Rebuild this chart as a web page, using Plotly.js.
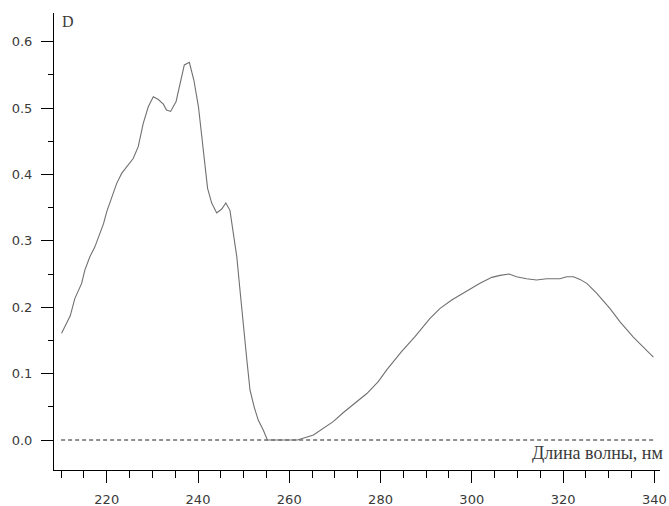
<!DOCTYPE html>
<html>
<head>
<meta charset="utf-8">
<script src="https://cdn.plot.ly/plotly-3.0.1.min.js"></script>
<style>html,body{margin:0;padding:0;background:#fff;}#chart{width:669px;height:506px;}</style>
</head>
<body>
<div id="chart"></div>
<script>
// Wavelength, nm
const wavelength = [
  210.1, 212.0, 213.0, 214.5, 215.2, 216.3, 217.4, 218.5, 219.3, 220.0,
  221.1, 222.2, 223.3, 224.7, 225.8, 226.9, 228.0, 229.1, 230.2, 231.3,
  232.4, 233.1, 234.0, 235.2, 236.1, 237.0, 238.1, 239.1, 240.1, 240.8,
  241.5, 242.1, 243.0, 244.1, 245.2, 246.1, 247.0, 247.7, 248.5, 249.2,
  249.9, 250.7, 251.4, 252.3, 253.2, 254.3, 255.2, 258.0, 261.8, 265.3,
  267.5, 269.7, 271.8, 274.4, 277.0, 279.5, 281.4, 284.6, 287.6, 290.8,
  293.0, 295.6, 298.9, 301.8, 304.4, 306.2, 308.2, 309.8, 312.0, 314.2,
  316.4, 319.3, 320.8, 322.3, 323.7, 325.2, 327.4, 330.3, 332.5, 335.4,
  339.8
];
// Optical density D
const density = [
  0.161, 0.187, 0.213, 0.236, 0.256, 0.276, 0.291, 0.311, 0.326, 0.344,
  0.367, 0.387, 0.402, 0.414, 0.424, 0.442, 0.477, 0.502, 0.517, 0.513,
  0.506, 0.497, 0.495, 0.510, 0.537, 0.565, 0.569, 0.542, 0.502, 0.457,
  0.417, 0.379, 0.357, 0.342, 0.348, 0.357, 0.346, 0.316, 0.276, 0.226,
  0.171, 0.121, 0.075, 0.050, 0.030, 0.015, 0.000, 0.000, 0.000, 0.0075,
  0.018, 0.028, 0.041, 0.055, 0.070, 0.088, 0.106, 0.133, 0.156, 0.183,
  0.198, 0.211, 0.225, 0.236, 0.245, 0.248, 0.250, 0.246, 0.243, 0.241,
  0.243, 0.243, 0.246, 0.246, 0.242, 0.236, 0.221, 0.198, 0.178, 0.155,
  0.125
];
// Dashed zero baseline
const baselineX = [210, 340];
const baselineY = [0, 0];

const xTickVals = [220, 240, 260, 280, 300, 320, 340];
const xTickText = ['220', '240', '260', '280', '300', '320', '340'];
const yTickVals = [0.0, 0.1, 0.2, 0.3, 0.4, 0.5, 0.6];
const yTickText = ['0.0', '0.1', '0.2', '0.3', '0.4', '0.5', '0.6'];

const xTitle = 'Длина волны, нм';
const yTitle = 'D';

const tickFont = {family: 'DejaVu Sans', size: 13, color: '#3a3a3a'};
const titleFont = {family: 'Liberation Serif', size: 18, color: '#3a3a3a'};
const dFont = {family: 'Liberation Serif', size: 16, color: '#3a3a3a'};

const traces = [
  {
    x: baselineX, y: baselineY, type: 'scatter', mode: 'lines',
    line: {color: '#222', width: 1, dash: '4px,3px'},
    hoverinfo: 'skip', showlegend: false
  },
  {
    x: wavelength, y: density, type: 'scatter', mode: 'lines',
    line: {color: '#707070', width: 1.1},
    showlegend: false
  }
];

const layout = {
  width: 669, height: 506,
  margin: {l: 54, r: 9, t: 13, b: 36},
  paper_bgcolor: '#fff', plot_bgcolor: '#fff',
  showlegend: false,
  xaxis: {
    range: [208.44, 341.25],
    showgrid: false, zeroline: false,
    showline: true, linecolor: '#000', linewidth: 1,
    ticks: 'outside', ticklen: 12, tickwidth: 1, tickcolor: '#000',
    tickmode: 'array', tickvals: xTickVals, ticktext: xTickText,
    tickfont: tickFont, ticklabelstandoff: 5,
    minor: {ticks: 'outside', ticklen: 7, tickwidth: 1, tickcolor: '#000', tick0: 210, dtick: 5, showgrid: false}
  },
  yaxis: {
    range: [-0.0452, 0.6433],
    showgrid: false, zeroline: false,
    showline: true, linecolor: '#000', linewidth: 1,
    ticks: 'outside', ticklen: 12, tickwidth: 1, tickcolor: '#000',
    tickmode: 'array', tickvals: yTickVals, ticktext: yTickText,
    tickfont: tickFont, ticklabelstandoff: 6,
    minor: {ticks: 'outside', ticklen: 5, tickwidth: 1, tickcolor: '#000', tick0: 0, dtick: 0.05, showgrid: false}
  },
  annotations: [
    {
      text: yTitle, xref: 'paper', yref: 'paper', x: 0, y: 1,
      xanchor: 'left', yanchor: 'top', xshift: 6, yshift: 2,
      showarrow: false, font: dFont
    },
    {
      text: xTitle, xref: 'paper', yref: 'paper', x: 1, y: 0,
      xanchor: 'right', yanchor: 'bottom', xshift: 5, yshift: 5,
      showarrow: false, font: titleFont
    }
  ]
};

Plotly.newPlot('chart', traces, layout, {displayModeBar: false, staticPlot: true});
</script>
</body>
</html>
